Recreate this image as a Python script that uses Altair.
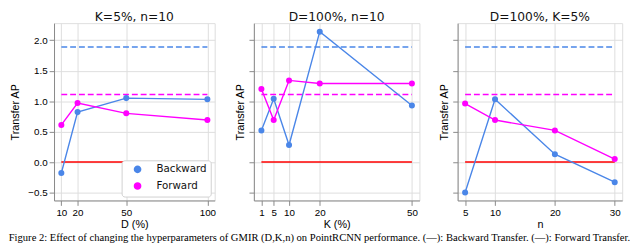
import altair as alt
import pandas as pd

BLUE = "#4a86e8"
MAGENTA = "#ff00ff"
RED = "#ff0000"

# ---- data ----
d_vals = [10, 20, 50, 100]
d_backward = [-0.18, 0.82, 1.05, 1.03]
d_forward = [0.61, 0.97, 0.80, 0.69]

k_vals = [1, 5, 10, 20, 50]
k_backward = [0.52, 1.04, 0.28, 2.14, 0.93]
k_forward = [1.20, 0.69, 1.34, 1.29, 1.29]

n_vals = [5, 10, 20, 30]
n_backward = [-0.50, 1.03, 0.13, -0.33]
n_forward = [0.96, 0.69, 0.52, 0.05]

backward_ref = 1.89
forward_ref = 1.11
zero_ref = 0.0

panel_titles = ["K=5%, n=10", "D=100%, n=10", "D=100%, K=5%"]
x_titles = ["D (%)", "K (%)", "n"]
y_ticks = [-0.5, 0.0, 0.5, 1.0, 1.5, 2.0]
y_domain = [-0.63, 2.28]
series_names = ["Backward", "Forward"]

caption = ("Figure 2: Effect of changing the hyperparameters of GMIR (D,K,n) on PointRCNN "
           "performance. (—): Backward Transfer. (—): Forward Transfer.")

PLOT_H = 181


def panel(xs, back, fwd, title, xtitle, width, first):
    lo, hi = min(xs), max(xs)
    m = 0.05 * (hi - lo)
    xscale = alt.Scale(domain=[lo - m, hi + m], nice=False, zero=False)
    yscale = alt.Scale(domain=y_domain, nice=False, zero=False)
    xaxis = alt.Axis(values=xs, format="d", title=xtitle, grid=True,
                     labelPadding=2, titlePadding=2, titleFontWeight=400)
    yaxis = alt.Axis(values=y_ticks, format=".1f", title="Transfer AP", grid=True,
                     labels=first, titlePadding=8 if first else 3, labelPadding=2,
                     titleFontWeight=400)

    series = pd.DataFrame({
        "x": list(xs) * 2,
        "y": list(back) + list(fwd),
        "series": [series_names[0]] * len(xs) + [series_names[1]] * len(xs),
    })

    def ref_rule(value, color, dash):
        df = pd.DataFrame({"x": [lo], "x2": [hi], "y": [value]})
        kw = dict(color=color, strokeWidth=1.5)
        if dash:
            kw["strokeDash"] = [6, 3]
        return alt.Chart(df).mark_rule(**kw).encode(
            x=alt.X("x:Q", scale=xscale, axis=xaxis),
            x2="x2:Q",
            y=alt.Y("y:Q", scale=yscale, axis=yaxis),
        )

    if first:
        legend = alt.Legend(title=None, orient="bottom-right", offset=4,
                            fillColor="white", strokeColor="#d0d0d0", cornerRadius=3,
                            padding=4, symbolType="circle", symbolSize=40,
                            symbolOffset=7, labelOffset=14, rowPadding=4,
                            labelFontSize=10.5, labelFont="DejaVu Sans",
                            labelColor="#111")
    else:
        legend = None

    lines = alt.Chart(series).mark_line(
        strokeWidth=1.4,
        point=alt.OverlayMarkDef(filled=True, size=38, opacity=1),
    ).encode(
        x=alt.X("x:Q", scale=xscale, axis=xaxis),
        y=alt.Y("y:Q", scale=yscale, axis=yaxis),
        color=alt.Color("series:N",
                        scale=alt.Scale(domain=series_names, range=[BLUE, MAGENTA]),
                        legend=legend),
    )

    return alt.layer(
        ref_rule(backward_ref, BLUE, True),
        ref_rule(forward_ref, MAGENTA, True),
        ref_rule(zero_ref, RED, False),
        lines,
    ).properties(
        width=width, height=PLOT_H,
        title=alt.Title(title, fontWeight=400, fontSize=12.5, font="DejaVu Sans",
                        color="#111", offset=0),
    )


p1 = panel(d_vals, d_backward, d_forward, panel_titles[0], x_titles[0], 164, True)
p2 = panel(k_vals, k_backward, k_forward, panel_titles[1], x_titles[1], 169, False)
p3 = panel(n_vals, n_backward, n_forward, panel_titles[2], x_titles[2], 168, False)

chart = alt.hconcat(p1, p2, p3, spacing=18).resolve_scale(
    x="independent", y="independent", color="independent"
).resolve_legend(color="independent").properties(
    title=alt.Title(caption, orient="bottom", anchor="start", font="Liberation Serif",
                    fontSize=10.8, fontWeight=400, color="black", offset=2)
).configure_axis(
    domain=False,
    tickColor="#222",
    tickSize=4,
    labelFontSize=10.5,
    titleFontSize=10.5,
    labelFont="DejaVu Sans",
    titleFont="DejaVu Sans",
    titleFontWeight=400,
    labelColor="#111",
    titleColor="#111",
    gridColor="#d4d4d4",
    gridWidth=1,
).configure_view(
    stroke="#333", strokeWidth=1
).configure(padding=0)

chart.save("out.html", embed_options={"renderer": "svg", "actions": False})
